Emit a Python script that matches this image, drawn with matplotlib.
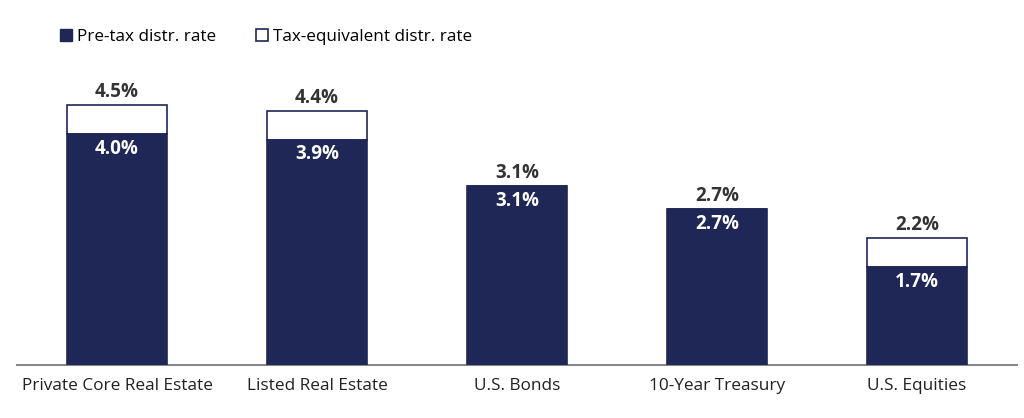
import numpy as np
from matplotlib import pyplot as plt
from matplotlib.patches import Patch

categories = ['Private Core Real Estate', 'Listed Real Estate', 'U.S. Bonds',
              '10-Year Treasury', 'U.S. Equities']
pre_tax = [4.0, 3.9, 3.1, 2.7, 1.7]
tax_equiv = [4.5, 4.4, 3.1, 2.7, 2.2]
legends = ('Pre-tax distr. rate', 'Tax-equivalent distr. rate')

navy = '#1f2756'
plt.rcParams['font.family'] = ['Open Sans', 'DejaVu Sans']

fig = plt.figure(figsize=(10.24, 4.18), dpi=100)
ax = fig.add_axes([17 / 1024, 1 - 365 / 418, 1000 / 1024, 325 / 418])

x = np.arange(len(categories))
pre = np.array(pre_tax)
tot = np.array(tax_equiv)
w = 0.5

ax.bar(x, tot - pre, bottom=pre, width=w, color='white', edgecolor=navy, linewidth=1.2, zorder=2)
ax.bar(x, pre, width=w, color=navy, edgecolor=navy, linewidth=1.2, zorder=3)

for i in range(len(x)):
    ax.annotate(f'{tot[i]:.1f}%', (x[i], tot[i]), xytext=(0, 2), textcoords='offset points',
                ha='center', va='bottom', fontsize=13.5, fontweight='bold', color='#333333')
    ax.annotate(f'{pre[i]:.1f}%', (x[i], pre[i]), xytext=(0, -3.5), textcoords='offset points',
                ha='center', va='top', fontsize=13.5, fontweight='bold', color='white', zorder=5)

ax.set_xlim(-0.5, 4.5)
ax.set_ylim(0, 325 / 57.8)
ax.set_xticks(x)
ax.set_xticklabels(categories, fontsize=12.4, color='#222222')
ax.tick_params(axis='x', length=0, pad=9)
ax.set_yticks([])
for s in ['top', 'right', 'left']:
    ax.spines[s].set_visible(False)
ax.spines['bottom'].set_color('#888888')
ax.spines['bottom'].set_linewidth(1.5)

handles = [Patch(facecolor=navy, edgecolor=navy),
           Patch(facecolor='white', edgecolor=navy, linewidth=1.2)]
fig.legend(handles, legends, loc='upper left', bbox_to_anchor=(45 / 1024, 1 - 14 / 418),
           ncol=2, frameon=False, fontsize=12.3, handlelength=0.7, handleheight=0.7,
           handletextpad=0.3, columnspacing=2.3)

plt.savefig('out.png', dpi=100)
